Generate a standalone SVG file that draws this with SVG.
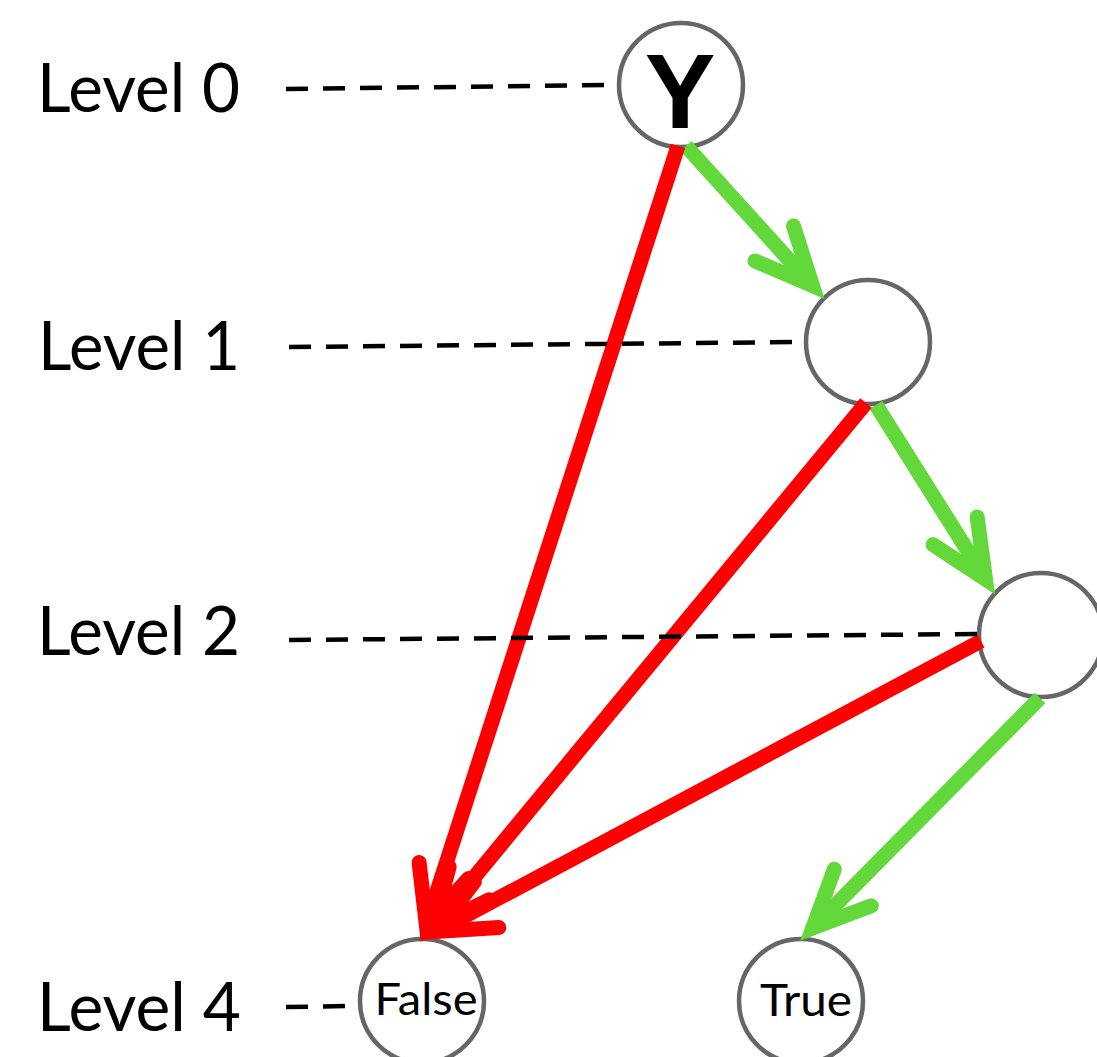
<svg xmlns="http://www.w3.org/2000/svg" width="1097" height="1057" viewBox="0 0 1097 1057">
  <style>
    .node { fill: #ffffff; stroke: #666666; stroke-width: 4.5; }
    .level { font-family: Lato, "Open Sans", "Liberation Sans", sans-serif; font-size: 67px; fill: #000000; }
    .leaf { font-family: Lato, "Open Sans", "Liberation Sans", sans-serif; font-size: 45px; fill: #000000; text-anchor: middle; }
    .root { font-family: "Liberation Sans", Arial, sans-serif; font-weight: bold; font-size: 106px; fill: #000000; text-anchor: middle; }
    .guide { stroke: #000000; stroke-width: 4.5; stroke-dasharray: 22 15; fill: none; }
    .yes { stroke: #63d83a; stroke-width: 15; fill: none; }
    .no { stroke: #ff0000; stroke-width: 15; fill: none; }
  </style>
  <defs>
    <marker id="head-yes" markerUnits="userSpaceOnUse" orient="auto" refX="0" refY="0" markerWidth="10" markerHeight="10" overflow="visible">
      <path d="M-57,-26 L0,0 L-57,26" fill="none" stroke="#63d83a" stroke-width="15" stroke-linecap="round" stroke-linejoin="miter"/>
    </marker>
    <marker id="head-no" markerUnits="userSpaceOnUse" orient="auto" refX="0" refY="0" markerWidth="10" markerHeight="10" overflow="visible">
      <path d="M-57,-26 L0,0 L-57,26" fill="none" stroke="#ff0000" stroke-width="15" stroke-linecap="round" stroke-linejoin="miter"/>
    </marker>
  </defs>

  <rect width="1097" height="1057" fill="#ffffff"/>

  <!-- level labels -->
  <g id="labels">
    <text class="level" x="37" y="112" textLength="203" lengthAdjust="spacingAndGlyphs">Level 0</text>
    <text class="level" x="38" y="370" textLength="202" lengthAdjust="spacingAndGlyphs">Level 1</text>
    <text class="level" x="37" y="655" textLength="203" lengthAdjust="spacingAndGlyphs">Level 2</text>
    <text class="level" x="37" y="1031" textLength="204" lengthAdjust="spacingAndGlyphs">Level 4</text>
  </g>

  <!-- decision nodes -->
  <g id="node-y">
    <circle class="node" cx="681" cy="85" r="62"/>
    <text class="root" x="680" y="128">Y</text>
  </g>
  <g id="node-1">
    <circle class="node" cx="868" cy="342" r="62"/>
  </g>
  <g id="node-2">
    <circle class="node" cx="1041" cy="635" r="62"/>
  </g>
  <g id="node-false">
    <circle class="node" cx="422" cy="1001" r="62"/>
    <text class="leaf" x="426" y="1015" textLength="103" lengthAdjust="spacingAndGlyphs">False</text>
  </g>
  <g id="node-true">
    <circle class="node" cx="801" cy="1001" r="62"/>
    <text class="leaf" x="806" y="1016" textLength="92" lengthAdjust="spacingAndGlyphs">True</text>
  </g>

  <!-- edges: green = true branch, red = false branch -->
  <g id="connectors">
    <line class="yes" x1="686" y1="146" x2="812.5" y2="285.7" marker-end="url(#head-yes)"/>
    <line class="yes" x1="876" y1="405" x2="985.5" y2="579.1" marker-end="url(#head-yes)"/>
    <line class="yes" x1="1040" y1="698" x2="812.8" y2="928" marker-end="url(#head-yes)"/>
    <line class="no" x1="678" y1="146" x2="426.3" y2="924.7" marker-end="url(#head-no)"/>
    <line class="no" x1="866" y1="403" x2="432.9" y2="927.2" marker-end="url(#head-no)"/>
    <line class="no" x1="981" y1="641" x2="436.3" y2="931.4" marker-end="url(#head-no)"/>
  </g>

  <!-- dashed level guides -->
  <g id="guides">
    <line class="guide" x1="286" y1="89" x2="607" y2="85"/>
    <line class="guide" x1="289" y1="347" x2="800" y2="342"/>
    <line class="guide" x1="289" y1="640" x2="977" y2="634"/>
    <line class="guide" x1="286" y1="1007" x2="348" y2="1006"/>
  </g>
</svg>
